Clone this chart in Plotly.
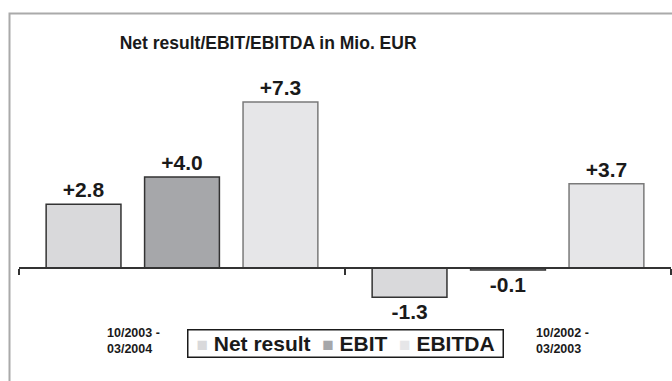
import plotly.graph_objects as go

# Half-year periods and reported figures (Mio. EUR)
periods = ["10/2003 - 03/2004", "10/2002 - 03/2003"]
period_lines = [("10/2003 -", "03/2004"), ("10/2002 -", "03/2003")]
net_result = [2.8, -1.3]
ebit = [4.0, -0.1]
ebitda = [7.3, 3.7]

series = [
    ("Net result", net_result, "#d9d9db", "#333333"),
    ("EBIT", ebit, "#a6a7aa", "#333333"),
    ("EBITDA", ebitda, "#e6e6e8", "#7a7a7a"),
]

FONT = "Liberation Sans, Arial, sans-serif"
INK = "#1a1a1a"
NBSP = "\u00a0"

fig = go.Figure()
for name, vals, fill, edge in series:
    fig.add_trace(go.Bar(
        name=name,
        x=periods,
        y=vals,
        marker=dict(color=fill, line=dict(color=edge, width=1.5)),
        text=[f"{v:+.1f}" for v in vals],
        textposition="outside",
        textfont=dict(family=FONT, size=21, color=INK, weight="bold"),
        cliponaxis=False,
        showlegend=False,
    ))

y_lo, y_hi = -2.3, 9.15

# plot area: x 19..671 px, y 60..320 px
def px_x(px):
    return (px - 19) / 652


def px_y(py):
    return (320 - py) / 260


fig.update_layout(
    width=672,
    height=381,
    margin=dict(l=19, r=1, t=60, b=61),
    paper_bgcolor="white",
    plot_bgcolor="white",
    barmode="group",
    bargap=0.094,
    bargroupgap=0.24,
    font=dict(family=FONT, color=INK),
    showlegend=False,
    title=dict(
        text="<b>Net result/EBIT/EBITDA in Mio. EUR</b>",
        font=dict(family=FONT, size=17.5, color=INK),
        x=0.399, xref="container", xanchor="center",
        y=1 - 43 / 381, yref="container", yanchor="middle",
    ),
    xaxis=dict(
        type="category",
        anchor="free",
        position=-y_lo / (y_hi - y_lo),
        showline=True,
        linecolor="#333333",
        linewidth=1.5,
        ticks="outside",
        tickson="boundaries",
        ticklen=6,
        tickwidth=1.5,
        tickcolor="#333333",
        showticklabels=False,
        showgrid=False,
    ),
    yaxis=dict(
        range=[y_lo, y_hi],
        visible=False,
        showgrid=False,
        zeroline=False,
    ),
)

# Boxed key: small coloured squares followed by the series names
key_parts = []
for name, _, fill, _ in series:
    key_parts.append(
        f'<span style="color:{fill};font-size:19px">\u25a0</span>{NBSP}<b>{name}</b>'
    )
fig.add_annotation(
    text=(NBSP * 2).join(key_parts),
    xref="paper", yref="paper",
    x=px_x(345.5), y=px_y(343.5),
    xanchor="center", yanchor="middle",
    showarrow=False,
    font=dict(family=FONT, size=21, color=INK),
    bordercolor=INK,
    borderwidth=1.5,
    borderpad=0,
    width=314,
    height=26,
    align="center",
    valign="middle",
    bgcolor="white",
)

# Period captions below the axis
for (line1, line2), xpix in zip(period_lines, [106, 535]):
    fig.add_annotation(
        text=f"<b>{line1}<br>{line2}</b>",
        xref="paper", yref="paper",
        x=px_x(xpix), y=px_y(340.5),
        xanchor="left", yanchor="middle",
        align="left",
        showarrow=False,
        borderpad=0,
        font=dict(family=FONT, size=12.5, color=INK),
    )

# Light grey frame around the chart
fig.add_shape(
    type="rect",
    xref="paper", yref="paper",
    x0=px_x(9.5), x1=1.05,
    y0=-0.3, y1=px_y(13.5),
    line=dict(color="#aaaaaa", width=2),
    fillcolor="rgba(0,0,0,0)",
    layer="below",
)

fig.write_html("out.html")
